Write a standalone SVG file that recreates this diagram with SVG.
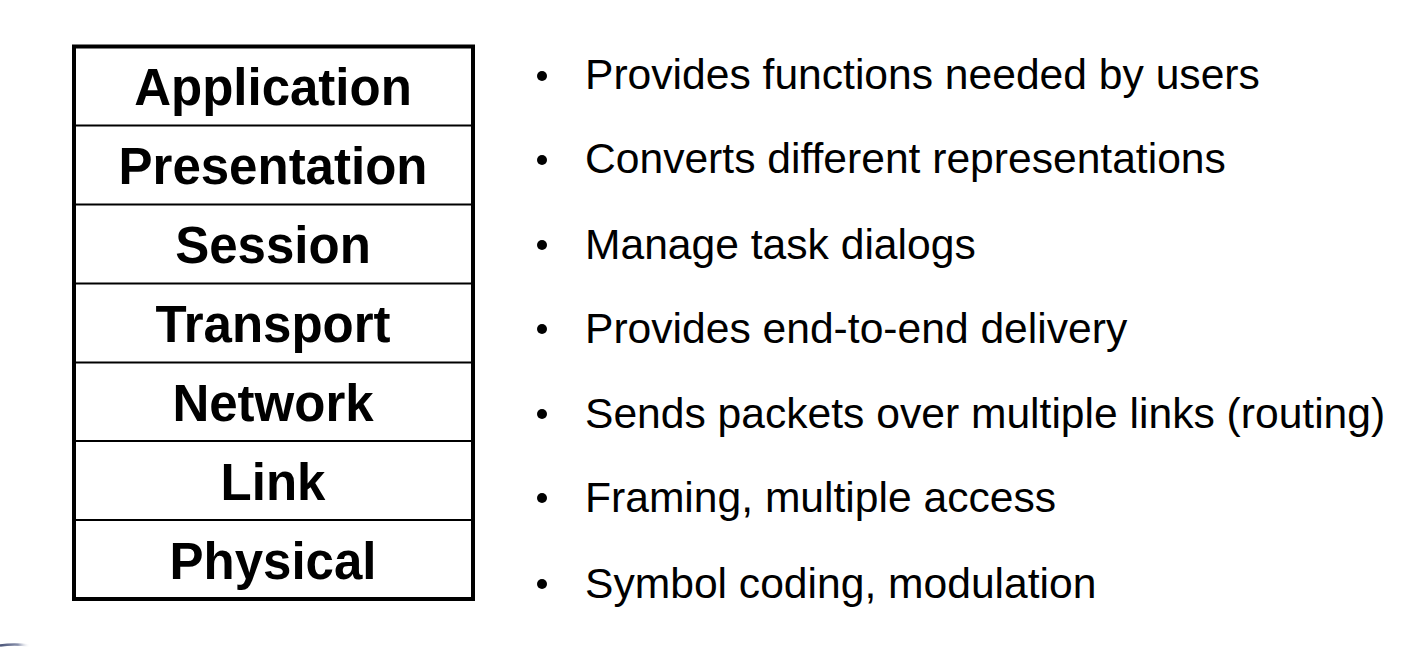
<svg xmlns="http://www.w3.org/2000/svg" width="1428" height="647" viewBox="0 0 1428 647">
  <style>
    .layer-name { font-family: "Liberation Sans", Arial, sans-serif; font-weight: bold; font-size: 51px; fill: #000; text-anchor: middle; }
    .desc { font-family: "Liberation Sans", Arial, sans-serif; font-size: 42.6px; fill: #000; }
    .divider { stroke: #000; stroke-width: 2; }
    .frame { fill: #fff; stroke: #000; stroke-width: 4; }
    .dot { fill: #000; }
  </style>
  <defs>
    <linearGradient id="fadeArc" x1="0" y1="0" x2="1" y2="0">
      <stop offset="0" stop-color="#4a5478"/>
      <stop offset="0.6" stop-color="#8a92ad"/>
      <stop offset="1" stop-color="#ffffff" stop-opacity="0"/>
    </linearGradient>
  </defs>
  <rect width="1428" height="647" fill="#fff"/>

  <!-- protocol stack table -->
  <g id="stack">
    <rect class="frame" x="74" y="46.5" width="399" height="552.5"/>
    <line class="divider" x1="74" y1="125.5" x2="473" y2="125.5"/>
    <line class="divider" x1="74" y1="204.5" x2="473" y2="204.5"/>
    <line class="divider" x1="74" y1="283.5" x2="473" y2="283.5"/>
    <line class="divider" x1="74" y1="362.5" x2="473" y2="362.5"/>
    <line class="divider" x1="74" y1="441" x2="473" y2="441"/>
    <line class="divider" x1="74" y1="520" x2="473" y2="520"/>
  </g>
  <g id="layer-application"><text class="layer-name" x="273" y="105">Application</text></g>
  <g id="layer-presentation"><text class="layer-name" x="273" y="184">Presentation</text></g>
  <g id="layer-session"><text class="layer-name" x="273" y="263">Session</text></g>
  <g id="layer-transport"><text class="layer-name" x="273" y="342">Transport</text></g>
  <g id="layer-network"><text class="layer-name" x="273" y="421">Network</text></g>
  <g id="layer-link"><text class="layer-name" x="273" y="500">Link</text></g>
  <g id="layer-physical"><text class="layer-name" x="273" y="579">Physical</text></g>

  <!-- layer descriptions -->
  <g id="desc-application"><circle class="dot" cx="542" cy="76" r="5"/><text class="desc" x="585" y="89">Provides functions needed by users</text></g>
  <g id="desc-presentation"><circle class="dot" cx="542" cy="160" r="5"/><text class="desc" x="585" y="173">Converts different representations</text></g>
  <g id="desc-session"><circle class="dot" cx="542" cy="245" r="5"/><text class="desc" x="585" y="258.5">Manage task dialogs</text></g>
  <g id="desc-transport"><circle class="dot" cx="542" cy="329" r="5"/><text class="desc" x="585" y="342.5">Provides end-to-end delivery</text></g>
  <g id="desc-network"><circle class="dot" cx="542" cy="414" r="5"/><text class="desc" x="585" y="427.5">Sends packets over multiple links (routing)</text></g>
  <g id="desc-link"><circle class="dot" cx="542" cy="498" r="5"/><text class="desc" x="585" y="512">Framing, multiple access</text></g>
  <g id="desc-physical"><circle class="dot" cx="542" cy="584" r="5"/><text class="desc" x="585" y="597.5">Symbol coding, modulation</text></g>

  <!-- corner ornament -->
  <path d="M0 645.5 Q14 643.5 30 645.5" fill="none" stroke="url(#fadeArc)" stroke-width="2.5"/>
</svg>
